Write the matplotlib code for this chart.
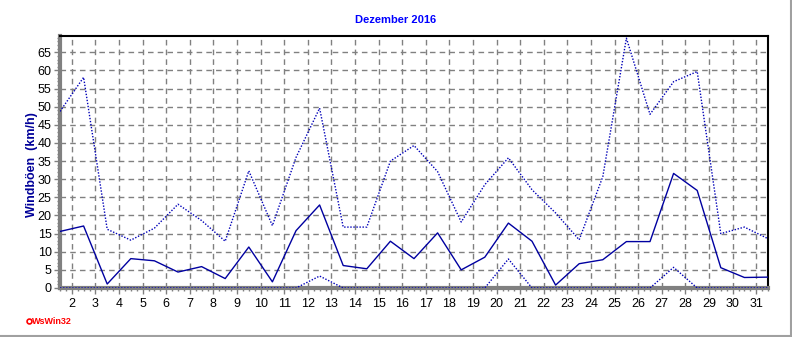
import numpy as np
import matplotlib.pyplot as plt
from matplotlib.ticker import MultipleLocator
from matplotlib.lines import Line2D

# Tage im Dezember 2016, Werte jeweils in der Tagesmitte aufgetragen
tage = np.arange(1, 32)
boeen_mittel = [15.6, 17.1, 1.1, 8.1, 7.5, 4.4, 5.9, 2.6, 11.3, 1.7,
                15.8, 22.9, 6.2, 5.3, 12.9, 8.1, 15.2, 5.0, 8.5, 17.9,
                12.9, 0.8, 6.7, 7.8, 12.8, 12.8, 31.6, 26.9, 5.6, 2.9, 3.0]
boeen_max = [48.7, 58.1, 16.2, 13.2, 16.5, 23.1, 18.6, 12.9, 32.3, 17.2,
             36.0, 49.6, 16.8, 16.8, 35.0, 39.3, 32.1, 18.2, 28.5, 35.9,
             27.1, 20.7, 13.3, 30.7, 68.9, 47.9, 56.9, 59.7, 15.0, 16.8, 13.6]
boeen_min = [0, 0, 0, 0, 0, 0, 0, 0, 0, 0,
             0, 3.3, 0, 0, 0, 0, 0, 0, 0, 8.0,
             0, 0, 0, 0, 0, 0, 5.7, 0, 0, 0, 0]
tick_tage = list(range(2, 32))

blau_linie = "#0000a0"
blau_punkt = "#0000b8"
grau = "#808080"

fig = plt.figure(figsize=(7.92, 3.37), dpi=100)
ax = fig.add_axes([60/792, 49/337, 708/792, 252/337])

x = tage + 0.5
ax.plot(x, boeen_max, color=blau_punkt, lw=1, linestyle=(0, (1, 1.2)), zorder=3)
ax.plot(x, boeen_min, color=blau_punkt, lw=1, linestyle=(0, (1, 1.2)), zorder=4)
ax.plot(x, boeen_mittel, color=blau_linie, lw=1, zorder=3)

ax.set_xlim(1.5, 31.5)
ax.set_ylim(0, 69.5)
ax.set_xticks(tick_tage)
ax.set_xticklabels([str(t) for t in tick_tage])
ax.xaxis.set_minor_locator(MultipleLocator(0.25))
ax.yaxis.set_major_locator(MultipleLocator(5))
ax.yaxis.set_minor_locator(MultipleLocator(1))

ax.grid(True, which="major", color=grau, linestyle=(0, (4, 3)), lw=1)
ax.set_axisbelow(True)

for s in ("left", "bottom"):
    ax.spines[s].set_color(grau)
    ax.spines[s].set_linewidth(3)
for s in ("top", "right"):
    ax.spines[s].set_color("black")
    ax.spines[s].set_linewidth(1.5)

ax.tick_params(axis="both", which="major", length=4, width=1, color=grau,
               labelsize=9, labelcolor="black")
ax.tick_params(axis="both", which="minor", length=2, width=1, color=grau)
ax.tick_params(axis="x", pad=3)
ax.tick_params(axis="y", pad=2)

for lbl in ax.get_xticklabels() + ax.get_yticklabels():
    lbl.set_family("Liberation Sans")

fig.text(396/792, 1 - 20/337, "Dezember 2016", ha="center", va="center",
         color="#0000ff", fontsize=8, fontweight="bold", family="Liberation Sans")
fig.text(32/792, 1 - 165/337, "Windböen  (km/h)", ha="center", va="center",
         rotation=90, color="#000099", fontsize=9, fontweight="bold",
         family="Liberation Sans")

# Programmkennung unten links
fig.text(32/792, 1 - 321/337, "WsWin32", ha="left", va="center",
         color="#ff0000", fontsize=6.5, fontweight="bold", family="Liberation Sans")
fig.add_artist(Line2D([28.5/792], [1 - 320.5/337], marker="o", markersize=3.5,
                      markerfacecolor="white", markeredgecolor="#ff0000",
                      markeredgewidth=1.2, transform=fig.transFigure))

# Rahmen rechts und unten
fig.add_artist(Line2D([790.5/792, 790.5/792], [1 - 0/337, 1 - 335.5/337],
                      color="#a0a0a0", lw=1.5, transform=fig.transFigure))
fig.add_artist(Line2D([0, 790.5/792], [1 - 335.5/337, 1 - 335.5/337],
                      color="#a0a0a0", lw=1.5, transform=fig.transFigure))

fig.savefig("out.png", dpi=100)
